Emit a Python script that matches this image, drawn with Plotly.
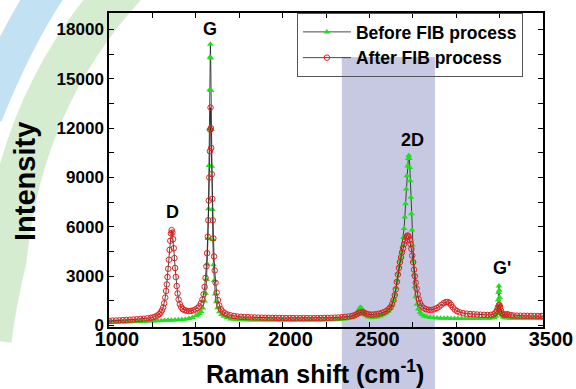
import plotly.graph_objects as go

# ---------------- data ----------------
before_shift = [
    1000, 1020, 1040, 1060, 1080, 1100, 1120, 1140, 1160, 1180,
    1200, 1220, 1240, 1260, 1280, 1300, 1320, 1340, 1360, 1380,
    1400, 1420, 1440, 1460, 1480, 1500, 1510, 1520, 1530, 1540,
    1550, 1556, 1562, 1566, 1570, 1573, 1576, 1578, 1580, 1582,
    1584, 1586, 1588, 1590, 1592, 1595, 1598, 1602, 1606, 1612,
    1618, 1626, 1636, 1648, 1662, 1680, 1700, 1720, 1740, 1760,
    1780, 1800, 1820, 1840, 1860, 1880, 1900, 1920, 1940, 1960,
    1980, 2000, 2020, 2040, 2060, 2080, 2100, 2120, 2140, 2160,
    2180, 2200, 2220, 2240, 2260, 2280, 2300, 2320, 2340, 2360,
    2380, 2400, 2412, 2422, 2432, 2440, 2446, 2450, 2456, 2462,
    2470, 2480, 2492, 2505, 2520, 2535, 2550, 2565, 2580, 2595,
    2608, 2620, 2630, 2640, 2648, 2655, 2661, 2666, 2671, 2676,
    2681, 2686, 2691, 2696, 2700, 2704, 2708, 2712, 2716, 2720,
    2724, 2727, 2730, 2733, 2736, 2739, 2742, 2745, 2748, 2752,
    2756, 2761, 2767, 2774, 2782, 2791, 2800, 2815, 2830, 2850,
    2870, 2890, 2910, 2930, 2950, 2970, 2990, 3010, 3030, 3050,
    3070, 3090, 3110, 3130, 3150, 3170, 3190, 3205, 3218, 3228,
    3235, 3239, 3242, 3244, 3246, 3248, 3250, 3253, 3257, 3262,
    3270, 3280, 3295, 3310, 3330, 3350, 3370, 3390, 3410, 3430,
    3450, 3470, 3490, 3500,
]
before_intensity = [
    190, 200, 196, 208, 214, 221, 226, 234, 241, 246,
    254, 261, 268, 279, 288, 297, 306, 314, 324, 336,
    348, 362, 385, 420, 480, 590, 643, 724, 851, 1071,
    1494, 1964, 2793, 3740, 5283, 7096, 9730, 11965, 14340, 16320,
    17100, 16270, 14290, 11915, 9680, 7046, 5233, 3690, 2743, 1914,
    1444, 1082, 835, 674, 569, 485, 400, 375, 360, 350,
    345, 340, 338, 335, 336, 332, 330, 331, 328, 330,
    327, 328, 326, 329, 327, 330, 328, 331, 330, 333,
    332, 336, 338, 342, 345, 350, 356, 365, 378, 395,
    420, 470, 540, 650, 820, 990, 1080, 1100, 1040, 920,
    760, 620, 540, 500, 490, 500, 530, 580, 650, 750,
    870, 1030, 1250, 1550, 1900, 2300, 2750, 3200, 3600, 3900,
    4150, 4450, 4850, 5350, 5900, 6600, 7400, 8300, 9100, 9700,
    10150, 10330, 10150, 9600, 8800, 7800, 6800, 5800, 4900, 3900,
    3100, 2350, 1750, 1300, 1000, 800, 680, 580, 530, 490,
    470, 455, 445, 440, 435, 432, 430, 428, 427, 428,
    426, 428, 430, 432, 435, 440, 448, 460, 490, 560,
    720, 1050, 1550, 2000, 2400, 2150, 1700, 1200, 820, 620,
    520, 475, 455, 448, 445, 442, 440, 438, 437, 436,
    435, 434, 433, 432,
]

after_shift = [
    1000, 1020, 1040, 1060, 1080, 1100, 1120, 1140, 1160, 1180,
    1200, 1220, 1240, 1255, 1268, 1280, 1290, 1298, 1305, 1312,
    1318, 1324, 1329, 1333, 1337, 1341, 1345, 1349, 1353, 1357,
    1361, 1365, 1369, 1373, 1377, 1381, 1385, 1390, 1395, 1401,
    1408, 1416, 1425, 1436, 1448, 1460, 1472, 1485, 1498, 1510,
    1520, 1530, 1538, 1545, 1551, 1556, 1561, 1565, 1569, 1572,
    1575, 1578, 1581, 1583, 1585, 1587, 1589, 1592, 1595, 1598,
    1601, 1605, 1609, 1614, 1620, 1627, 1635, 1644, 1655, 1668,
    1682, 1700, 1720, 1740, 1760, 1780, 1800, 1820, 1840, 1860,
    1880, 1900, 1920, 1940, 1960, 1980, 2000, 2020, 2040, 2060,
    2080, 2100, 2120, 2140, 2160, 2180, 2200, 2220, 2240, 2260,
    2280, 2300, 2320, 2340, 2360, 2380, 2400, 2415, 2428, 2440,
    2450, 2460, 2470, 2482, 2495, 2510, 2525, 2540, 2555, 2570,
    2585, 2600, 2612, 2622, 2631, 2639, 2646, 2652, 2658, 2664,
    2670, 2676, 2682, 2688, 2694, 2700, 2706, 2712, 2717, 2722,
    2727, 2732, 2737, 2742, 2747, 2752, 2757, 2762, 2767, 2772,
    2778, 2784, 2791, 2800, 2812, 2826, 2842, 2858, 2874, 2888,
    2902, 2915, 2928, 2940, 2950, 2960, 2970, 2980, 2992, 3005,
    3020, 3040, 3060, 3080, 3100, 3120, 3140, 3160, 3180, 3200,
    3215, 3226, 3234, 3240, 3245, 3249, 3253, 3258, 3264, 3272,
    3282, 3292, 3302, 3315, 3330, 3350, 3370, 3390, 3410, 3430,
    3450, 3470, 3490, 3500,
]
after_intensity = [
    280, 300, 305, 315, 325, 340, 355, 365, 380, 395,
    415, 435, 465, 500, 550, 610, 690, 790, 920, 1100,
    1350, 1700, 2100, 2500, 2950, 3450, 4000, 4600, 5150, 5600,
    5800, 5650, 5250, 4700, 4100, 3500, 2950, 2400, 1950, 1580,
    1300, 1120, 1000, 930, 895, 880, 890, 920, 975, 1060,
    1170, 1350, 1580, 1900, 2350, 2900, 3600, 4400, 5400, 6400,
    7600, 9000, 10600, 11900, 13250, 12000, 10800, 9200, 7700, 6400,
    5300, 4200, 3350, 2600, 2000, 1550, 1220, 1000, 850, 740,
    670, 620, 580, 550, 530, 515, 505, 495, 488, 482,
    477, 472, 468, 465, 462, 458, 456, 454, 452, 450,
    449, 448, 447, 447, 448, 449, 452, 455, 460, 465,
    472, 480, 490, 505, 525, 550, 580, 630, 700, 770,
    800, 810, 780, 720, 680, 665, 670, 690, 720, 760,
    820, 900, 1000, 1120, 1300, 1550, 1850, 2200, 2650, 3100,
    3500, 3850, 4150, 4450, 4700, 4950, 5150, 5350, 5450, 5470,
    5400, 5200, 4950, 4650, 4250, 3850, 3400, 3000, 2600, 2250,
    1900, 1600, 1380, 1200, 1070, 990, 950, 950, 990, 1060,
    1150, 1260, 1360, 1420, 1430, 1380, 1260, 1110, 970, 870,
    800, 750, 720, 700, 685, 670, 658, 650, 645, 650,
    680, 760, 900, 1080, 1220, 1250, 1120, 900, 740, 670,
    660, 690, 660, 625, 610, 600, 595, 590, 588, 585,
    583, 580, 578, 577,
]

series_names = ["Before FIB process", "After FIB process"]
peak_labels = ["D", "G", "2D", "G'"]
peak_label_x = [1367, 1584, 2750, 3263]
peak_label_y = [6900, 18020, 11280, 3500]

x_range = [1000, 3500]
y_range = [-90, 19000]

# ---------------- figure ----------------
FONT = "Liberation Sans, Arial, sans-serif"

fig = go.Figure()

fig.add_trace(go.Scatter(
    x=before_shift, y=before_intensity, name=series_names[0],
    mode="lines+markers",
    line=dict(color="#1a1a1a", width=0.8),
    marker=dict(symbol="triangle-up", size=6, color="rgb(30,225,30)",
                line=dict(width=0)),
))
fig.add_trace(go.Scatter(
    x=after_shift, y=after_intensity, name=series_names[1],
    mode="lines+markers",
    line=dict(color="#1a1a1a", width=0.8),
    marker=dict(symbol="circle-open", size=5.5, color="rgb(228,30,30)",
                line=dict(width=1, color="rgb(228,30,30)")),
))

for txt, lx, ly in zip(peak_labels, peak_label_x, peak_label_y):
    fig.add_annotation(x=lx, y=ly, xref="x", yref="y", text=txt,
                       showarrow=False, xanchor="center", yanchor="middle",
                       font=dict(family=FONT, size=18, color="black", weight="bold"))

# axis titles as annotations
fig.add_annotation(x=-0.195, y=0.463, xref="paper", yref="paper", text="Intensity",
                   textangle=-90, showarrow=False, xanchor="center", yanchor="middle",
                   font=dict(family=FONT, size=29, color="black", weight="bold"))
fig.add_annotation(x=0.474, y=-0.142, xref="paper", yref="paper",
                   text="Raman shift (cm<sup>-1</sup>)", showarrow=False,
                   xanchor="center", yanchor="middle",
                   font=dict(family=FONT, size=25, color="black", weight="bold"))

# faint watermark background
shapes = [
    dict(type="rect", xref="paper", yref="paper", x0=0.5365, x1=0.751, y0=-0.2, y1=0.86,
         fillcolor="#c7c9e3", line=dict(width=0), layer="below"),
    dict(type="path", xref="paper", yref="paper",
         path="M -0.1413,1.0732 Q -0.2174,0.914 -0.2866,0.675",
         line=dict(color="#c2e2f3", width=36), layer="below"),
    dict(type="path", xref="paper", yref="paper",
         path="M 0.0362,1.089 Q -0.2059,0.7229 -0.2405,0.2134 Q -0.2635,0.086 -0.2751,-0.0414",
         line=dict(color="#d5ecd0", width=44), layer="below"),
]

axis_common = dict(
    showline=True, linecolor="black", linewidth=1.5, mirror="ticks",
    ticks="inside", ticklen=5, tickwidth=1.3, tickcolor="black",
    showgrid=False, zeroline=False, automargin=False,
)

fig.update_layout(
    width=576, height=389,
    margin=dict(l=109, r=33, t=13, b=62),
    paper_bgcolor="white", plot_bgcolor="rgba(0,0,0,0)",
    shapes=shapes,
    showlegend=True,
    legend=dict(x=0.433, y=1.0, xanchor="left", yanchor="top",
                bgcolor="rgba(0,0,0,0)", bordercolor="#555", borderwidth=1,
                itemwidth=48, tracegroupgap=0,
                font=dict(family=FONT, size=17.5, color="black", weight="bold")),
    xaxis=dict(range=x_range, tick0=1000, dtick=500, ticklabelstandoff=-7,
               ticklabelshift=8,
               minor=dict(dtick=250, ticks="inside", ticklen=5, tickcolor="black", tickwidth=1.3),
               tickfont=dict(family=FONT, size=20, color="black", weight="bold"),
               **axis_common),
    yaxis=dict(range=y_range, tick0=0, dtick=3000, tickformat="d",
               minor=dict(dtick=1500, ticks="inside", ticklen=5, tickcolor="black", tickwidth=1.3),
               tickfont=dict(family=FONT, size=17, color="black", weight="bold"),
               **axis_common),
)

fig.write_html("out.html")
